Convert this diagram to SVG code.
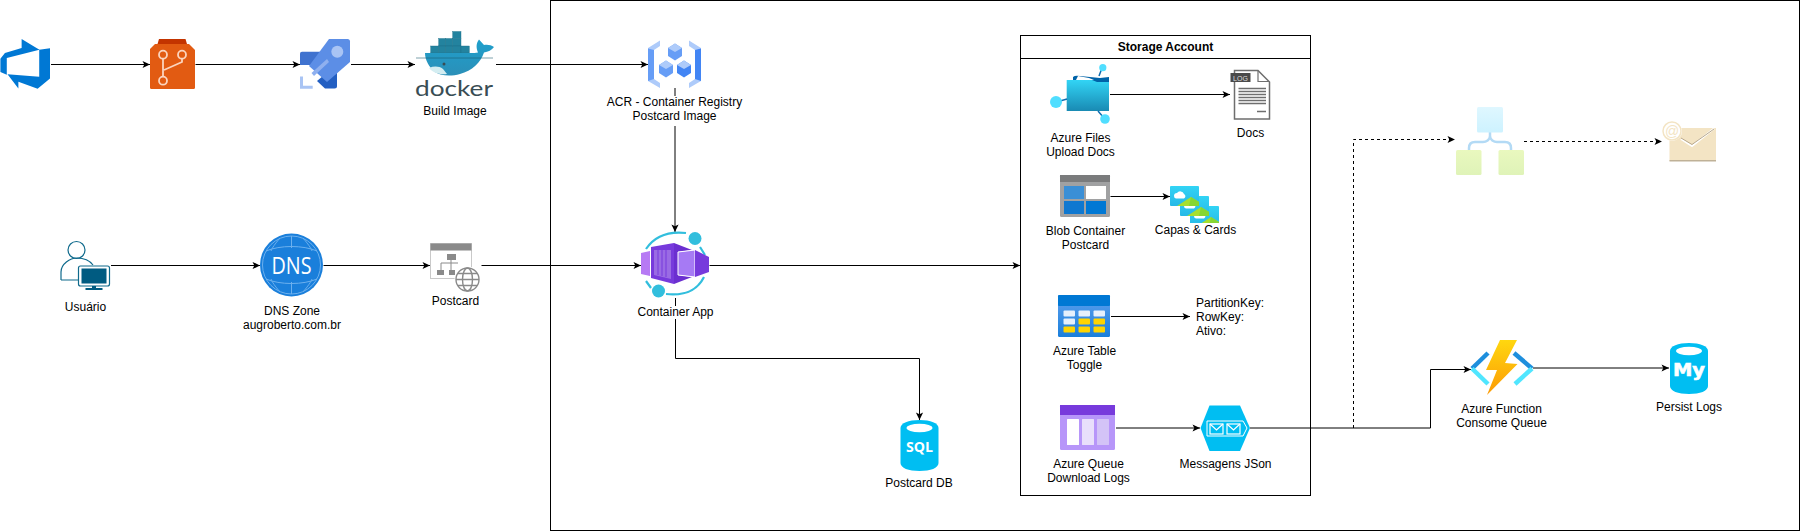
<svg xmlns="http://www.w3.org/2000/svg" width="1801" height="531" viewBox="0 0 1801 531">
<style>
text{font-family:"Liberation Sans",Arial,sans-serif;font-size:12px;fill:#000}
.c{text-anchor:middle}
.b{font-weight:bold}
.ln{fill:none;stroke:#000;stroke-width:1}
.ar{marker-end:url(#arrow)}
.da{stroke-dasharray:3 3}
.box{fill:none;stroke:#000;stroke-width:1}
.bg{fill:#fff}
</style>
<defs>
<marker id="arrow" markerUnits="userSpaceOnUse" markerWidth="10" markerHeight="10" refX="8" refY="5" orient="auto"><path d="M8 5L.5 8.600 2.300 5 .5 1.400Z" fill="#000"/></marker>
<linearGradient id="gFolder" x1="0" y1="0" x2="0" y2="1"><stop offset="0" stop-color="#32D4F5"/><stop offset="1" stop-color="#198AB3"/></linearGradient>
<linearGradient id="gTable" x1="0" y1="0" x2="0" y2="1"><stop offset="0" stop-color="#5EA0EF"/><stop offset="1" stop-color="#1A7FDB"/></linearGradient>
<linearGradient id="gBolt" x1="0" y1="0" x2="0" y2="1"><stop offset="0" stop-color="#FFD70F"/><stop offset="1" stop-color="#FC9A05"/></linearGradient>
<linearGradient id="gTop" x1="0" y1="0" x2="0" y2="1"><stop offset="0" stop-color="#DFF7FF"/><stop offset="1" stop-color="#CDF2FF"/></linearGradient>
<linearGradient id="gLeaf" x1="0" y1="0" x2="0" y2="1"><stop offset="0" stop-color="#E9F8BE"/><stop offset="1" stop-color="#DFF3B8"/></linearGradient>
<linearGradient id="gPic" x1="0" y1="0" x2="0" y2="1"><stop offset="0" stop-color="#32D4F5"/><stop offset="1" stop-color="#27B8E6"/></linearGradient>
<linearGradient id="gWhale" x1="0" y1="0" x2="0" y2="1"><stop offset="0" stop-color="#1FA0CC"/><stop offset="1" stop-color="#2B8FB8"/></linearGradient>
<g id="cyl"><path d="M0 8C0 3 8 0 19 0S38 3 38 8V43C38 48 30 51 19 51S0 48 0 43Z" fill="#00BEF2"/><ellipse cx="19" cy="8" rx="13" ry="4.200" fill="#fff"/></g>
<g id="pic"><rect width="29" height="20" rx="1" fill="url(#gPic)"/><path d="M7 20L21 11 29 16V20Z" fill="#A6DF2F"/><path d="M21 11L29 16V20H19Z" fill="#86D633"/><path d="M4 10a3 3 0 0 1 3-3a4 4 0 0 1 7 1a2.500 2.500 0 0 1 0 4.500H6a2.500 2.500 0 0 1-2-2.500Z" fill="#fff"/></g>
</defs>
<rect class="bg" width="1801" height="531"/>
<rect id="frame" class="box" x="550.500" y=".5" width="1249" height="530"/>
<g id="storage"><rect class="box" x="1020.500" y="35.500" width="290" height="460"/><path class="ln" d="M1020.500 58.500H1310.500"/><text class="c b" x="1165.500" y="51">Storage Account</text></g>

<g id="connectors">
<path class="ln ar" d="M51 64.500H150"/>
<path class="ln ar" d="M195.500 64.500H300"/>
<path class="ln ar" d="M351 64.500H415"/>
<path class="ln ar" d="M496 64.500H648"/>
<path class="ln ar" d="M675 88V232"/>
<path class="ln ar" d="M111 265.500H260"/>
<path class="ln ar" d="M323.500 265.500H430"/>
<path class="ln ar" d="M481.500 265.500H641"/>
<path class="ln ar" d="M709.500 265.500H1020"/>
<path class="ln ar" d="M675.500 298V358.500H919.500V420"/>
<path class="ln ar" d="M1110 94.500H1230"/>
<path class="ln ar" d="M1110.500 196.500H1170"/>
<path class="ln ar" d="M1111 316.500H1190"/>
<path class="ln ar" d="M1116 428H1200"/>
<path class="ln ar" d="M1250 428H1430.500V369.500H1471"/>
<path class="ln ar da" d="M1353.500 428V139.500H1455"/>
<path class="ln ar da" d="M1524 141.500H1662"/>
<path class="ln ar" d="M1533 368H1669"/>
</g>

<g id="devops"><path transform="translate(-2.700 35.900) scale(3.100)" d="M17 4v9.740l-4 3.280-6.200-2.260V17l-3.510-4.590 10.230.8V4.440zm-3.410.49L7.850 1v2.940L2.460 5.520 1 7.390v4.250l2.060.93V7.100z" fill="#0078D4"/></g>

<g id="repos"><path d="M157.500 44L159 39H185.500L187 44Z" fill="#C33400"/><path d="M155 44H189L195 50V87.500Q195 89 193.500 89H151.500Q150 89 150 87.500V49Z" fill="#E25B12"/><g fill="none" stroke="#FBD4BE" stroke-width="1.800"><circle cx="163" cy="54.700" r="4"/><circle cx="182" cy="54.700" r="4"/><circle cx="163" cy="80.700" r="4"/><path d="M163 58.700V76.700M182 58.700V62L164 70"/></g></g>

<g id="pipelines"><path d="M300 53.500Q300 51.700 302 51.700H320V65H300Z" fill="#3F72CF"/><path d="M317 81L330 70H337V86Q337 88.500 334.500 88.500H325Z" fill="#235FC2"/><path d="M329 39H347.500Q350 39 350 41.500V62L327 82 309 66Z" fill="#5C8EE6"/><circle cx="337.300" cy="51.700" r="6" fill="#A9C4F4"/><path d="M311.500 73L327 59 329 62 314 76Z" fill="#8FB0EF"/><path d="M300 76.500H303V85.800H312.700V88.700H300Z" fill="#A9C4F4"/></g>

<g id="docker"><g fill="#23839F" stroke="#1B6F88" stroke-width=".4"><rect x="452.700" y="31.500" width="8.300" height="7"/><rect x="452.700" y="38.500" width="8.300" height="7.500"/><rect x="438.700" y="38.500" width="7" height="7.500"/><rect x="445.700" y="38.500" width="7" height="7.500"/><rect x="430.700" y="46" width="8" height="7"/><rect x="438.700" y="46" width="7" height="7"/><rect x="445.700" y="46" width="7" height="7"/><rect x="452.700" y="46" width="8.300" height="7"/><rect x="461" y="46" width="8.300" height="7"/></g>
<path d="M425 53H470C473 53 476 53 478 52.500C476 48 476 43 479 39.500L484 45C488 44.500 491 45 494 47C492 50 488 52 484 52.500C481 62 472 71 460 74 451 76.500 441 76 435 72 429 67 425 60 425 53Z" fill="url(#gWhale)"/><path d="M429 68C434 66 439 66 443 69L447 74C440 75 433 73 429 68Z" fill="#D4EDF1"/><circle cx="444" cy="64" r="1.500" fill="#394D54"/><path d="M416 58H493" stroke="#1B5B70" stroke-width=".8" opacity=".7"/>
<text x="415" y="96" textLength="78" lengthAdjust="spacingAndGlyphs" style="font-family:Lato,'Liberation Sans',sans-serif;font-size:22px;fill:#394D54">docker</text>
<text class="c" x="455" y="115">Build Image</text></g>

<g id="acr"><g fill="#AECBFA"><path d="M648 48L660 40.500V46L654 50V79L660 83V88L648 81Z"/><path d="M701 48L689 40.500V46L695 50V79L689 83V88L701 81Z"/></g><path d="M648 48.500L654 50V79L648 81Z" fill="#669DF6"/><path d="M701 48.500L695 50V79L701 81Z" fill="#4285F4"/>
<g id="cubes"><path d="M675 43.500L682 48V56L675 60.500 668 56V48Z" fill="#669DF6"/><path d="M675 43.500L682 48 675 52 668 48Z" fill="#AECBFA"/><path d="M666 60.500L673 65V73L666 77.500 659 73V65Z" fill="#669DF6"/><path d="M666 60.500L673 65 666 69 659 65Z" fill="#AECBFA"/><path d="M684 60.500L691 65V73L684 77.500 677 73V65Z" fill="#4285F4"/><path d="M684 60.500L691 65 684 69 677 65Z" fill="#AECBFA"/></g>
<rect class="bg" x="600" y="96" width="150" height="30"/>
<text class="c" x="674.500" y="106">ACR - Container Registry</text><text class="c" x="674.500" y="120">Postcard Image</text></g>

<g id="user"><g fill="none" stroke="#0F6A8C" stroke-width="1.200"><circle cx="76.500" cy="250" r="8.500"/><path d="M61 280V272C61 264 70 258 77 258 84 258 90 261 93 265M61 280H79"/></g><rect x="78.500" y="266" width="31" height="20" rx="2" fill="#fff" stroke="#0F6A8C" stroke-width="1.200"/><rect x="81.500" y="268.500" width="25" height="15" fill="#005B81"/><path d="M92 286H96V288H102.500V290H85.500V288H92Z" fill="#005B81"/><text class="c" x="85.500" y="311">Usuário</text></g>

<g id="dns"><circle cx="291.500" cy="265" r="31.500" fill="#1A7FDB"/><g fill="none" stroke="#6CB0EE" stroke-width="1"><circle cx="291.500" cy="265" r="29"/><path d="M266 251C280 245 303 245 317 251M266 279C280 285 303 285 317 279M280 238C275 244 272 248 271 251M303 238C308 244 311 248 312 251M280 292C275 286 272 282 271 279M303 292C308 286 311 282 312 279M291.500 236V248M291.500 282V294"/></g><text class="c" x="291.500" y="274" textLength="40" lengthAdjust="spacingAndGlyphs" style="font-family:'Open Sans','Liberation Sans',sans-serif;font-size:24px;fill:#fff">DNS</text>
<text class="c" x="292" y="315">DNS Zone</text><text class="c" x="292" y="329">augroberto.com.br</text></g>

<g id="postcard"><rect x="430.500" y="243.500" width="41" height="35" fill="#fff" stroke="#C9C9C9"/><rect x="430.500" y="243.500" width="41" height="7" fill="#8A8A8A"/><g fill="#8A8A8A"><rect x="447" y="254" width="9" height="6"/><rect x="437" y="270" width="7" height="5"/><rect x="449" y="270" width="6" height="5"/></g><path d="M451 260V263H441V270M451 263V270M451 263H458" fill="none" stroke="#8A8A8A"/><circle cx="467.500" cy="279.500" r="13" fill="#fff"/><g fill="none" stroke="#8A8A8A" stroke-width="1.400"><circle cx="467.500" cy="279.500" r="11.500"/><ellipse cx="467.500" cy="279.500" rx="5" ry="11.500"/><path d="M456 279.500H479M458 273.500H477M458 285.500H477"/></g>
<text class="c" x="455.500" y="305">Postcard</text></g>

<g id="containerapp"><g fill="none" stroke="#32BEDD" stroke-width="2.200"><path d="M646 249C654 237 668 231 686 233M700 247L705 255M704 277C697 291 685 296 666 294M651 288L646 281"/></g><circle cx="695" cy="238.500" r="6.500" fill="#32BEDD"/><circle cx="658.500" cy="291" r="6.500" fill="#32BEDD"/><path d="M641 253L650 251V276L641 274Z" fill="#B77AF4"/><path d="M651 247L674 243V284L651 278Z" fill="#773ADC"/><path d="M674 243L692 250 678 252V275L692 277 674 284Z" fill="#6B2FD0"/><path d="M654 250H671V279L654 275Z" fill="#9A6BE4"/><path d="M658 250V275M662 250V276M666 250V277" stroke="#773ADC"/><path d="M678 252L695 250V277L678 275Z" fill="#A67AF4" stroke="#fff"/><path d="M695 250L709 257V272L695 277Z" fill="#773ADC"/><rect class="bg" x="634" y="306" width="84" height="13"/><text class="c" x="675.500" y="316">Container App</text></g>

<g id="sqldb"><use href="#cyl" x="900.500" y="420"/><text class="c b" x="919.500" y="452" textLength="27" lengthAdjust="spacingAndGlyphs" style="font-family:'Open Sans','Liberation Sans',sans-serif;font-size:14px;fill:#fff">SQL</text><text class="c" x="919" y="487">Postcard DB</text></g>

<g id="files"><path d="M1073 80V77Q1075 75 1080 76L1090 77 1100 78 1109 77V100H1073Z" fill="#0063A8"/><path d="M1076 80L1078 76 1089 78 1094 80Z" fill="#fff"/><path d="M1066.700 80H1092L1097 82H1109V111H1066.700Z" fill="url(#gFolder)"/><path d="M1099 76L1102 68M1060 101L1067 99M1098 111L1104 118" stroke="#0F6DB0" stroke-width="1.500"/><g fill="#50DEFF"><circle cx="1102.800" cy="67.700" r="3.600"/><circle cx="1056" cy="102" r="6"/><circle cx="1105" cy="119" r="4.800"/></g>
<text class="c" x="1080.500" y="142">Azure Files</text><text class="c" x="1080.500" y="156">Upload Docs</text></g>

<g id="docs"><path d="M1234.500 70.500H1258L1269.500 82V119H1234.500Z" fill="#fff" stroke="#6E6E6E" stroke-width="1.500"/><path d="M1258 70.500V81.500H1269.500" fill="none" stroke="#6E6E6E" stroke-width="1.200"/><rect x="1230.500" y="73" width="20" height="9" fill="#4A4A4A"/><text class="c" x="1240.500" y="80.500" style="font-size:7px;fill:#ddd">LOG</text><path d="M1238.500 88.500H1266M1238.500 91.500H1266M1238.500 94.500H1266M1238.500 97.500H1266M1238.500 100.500H1266M1238.500 103.500H1266M1257 111.500H1266" stroke="#6E6E6E" stroke-width="1.300"/><text class="c" x="1250.500" y="137">Docs</text></g>

<g id="blob"><rect x="1060" y="175" width="50" height="42" rx="1.500" fill="#A0A1A2"/><rect x="1060" y="175" width="50" height="7" fill="#7A7B7C"/><rect x="1064" y="186" width="20" height="13" fill="#3A8FD6"/><rect x="1086" y="186" width="20" height="13" fill="#fff"/><rect x="1064" y="201" width="20" height="13" fill="#0F78D0"/><rect x="1086" y="201" width="20" height="13" fill="#0078D4"/><text class="c" x="1085.500" y="235">Blob Container</text><text class="c" x="1085.500" y="249">Postcard</text></g>

<g id="capas"><svg x="1190" y="206" width="29" height="17" viewBox="0 0 29 17"><use href="#pic"/></svg><use href="#pic" x="1180" y="196"/><use href="#pic" x="1170" y="186"/><text class="c" x="1195.500" y="234">Capas &amp; Cards</text></g>

<g id="table"><rect x="1058" y="295" width="52" height="42" rx="1.500" fill="url(#gTable)"/><rect x="1058" y="295" width="52" height="11" rx="1" fill="#0078D4"/><g fill="#E6F0FC"><rect x="1063.500" y="310.500" width="11.500" height="6" rx="1"/><rect x="1078.500" y="310.500" width="11.500" height="6" rx="1"/><rect x="1093.500" y="310.500" width="11.500" height="6" rx="1"/><rect x="1063.500" y="318.500" width="11.500" height="6" rx="1"/></g><g fill="#FFD400"><rect x="1078.500" y="318.500" width="11.500" height="6" rx="1"/><rect x="1093.500" y="318.500" width="11.500" height="6" rx="1"/><rect x="1063.500" y="326.500" width="11.500" height="6" rx="1"/><rect x="1078.500" y="326.500" width="11.500" height="6" rx="1"/><rect x="1093.500" y="326.500" width="11.500" height="6" rx="1"/></g><text class="c" x="1084.500" y="355">Azure Table</text><text class="c" x="1084.500" y="369">Toggle</text></g>

<g id="fields"><text x="1196" y="307">PartitionKey:</text><text x="1196" y="321">RowKey:</text><text x="1196" y="335">Ativo:</text></g>

<g id="queue"><rect x="1060" y="405" width="55" height="45" rx="1.500" fill="#B796F9"/><rect x="1060" y="405" width="55" height="10" fill="#773ADC"/><rect x="1067" y="419" width="12" height="26" rx=".5" fill="#fff"/><rect x="1082" y="419" width="12" height="26" rx=".5" fill="#E8DFFB"/><rect x="1097" y="419" width="12" height="26" rx=".5" fill="#D3C3F7"/><text class="c" x="1088.500" y="468">Azure Queue</text><text class="c" x="1088.500" y="482">Download Logs</text></g>

<g id="messages"><path d="M1200.500 428L1209.500 405.500H1240L1250 428 1240 451H1209.500Z" fill="#00BEF2"/><path d="M1207 421H1243L1247 428 1243 436H1207Z" fill="none" stroke="#fff" stroke-width="1"/><g fill="none" stroke="#fff" stroke-width="1.200"><rect x="1210" y="424" width="13" height="10"/><rect x="1227" y="424" width="13" height="10"/><path d="M1210 424L1216.500 430 1223 424M1227 424L1233.500 430 1240 424"/></g><text class="c" x="1225.500" y="468">Messagens JSon</text></g>

<g id="logicapp"><path d="M1490 132V136C1490 140 1486 142 1483 142H1475Q1469 142 1469 148V150M1490 136C1490 140 1494 142 1497 142H1505Q1511 142 1511 148V150" fill="none" stroke="#B3DAF5" stroke-width="2.500"/><rect x="1477" y="107" width="26" height="25.500" rx="1.500" fill="url(#gTop)"/><rect x="1456" y="150" width="25.500" height="25" rx="1.500" fill="url(#gLeaf)"/><rect x="1498.500" y="150" width="25.500" height="25" rx="1.500" fill="url(#gLeaf)"/></g>

<g id="email"><rect x="1669.500" y="128" width="46.500" height="33" fill="#F3E4C4"/><rect x="1669.500" y="160" width="46.500" height="1.500" fill="#BFB197"/><path d="M1681 139L1692 146 1714 128.500" fill="none" stroke="#fff" stroke-width="2"/><path d="M1681 138L1692 144.500 1714 129" fill="none" stroke="#B8A88C"/><circle cx="1672" cy="131" r="10" fill="#fff"/><circle cx="1672" cy="131" r="9" fill="none" stroke="#F3E4C4" stroke-width="1.500"/><text class="c" x="1672" y="136" style="font-size:14px;fill:#F3E4C4">@</text></g>

<g id="function"><path d="M1472 368.500L1488 353" stroke="#1E8FDD" stroke-width="4.500" fill="none"/><path d="M1472 368.500L1488 384" stroke="#50E6FF" stroke-width="4.500" fill="none"/><path d="M1532 368.500L1514 353" stroke="#1E8FDD" stroke-width="4.500" fill="none"/><path d="M1532 368.500L1515 384" stroke="#50E6FF" stroke-width="4.500" fill="none"/><path d="M1500 340H1517L1505 363 1517.500 364 1487 395 1497 370 1486 370Z" fill="url(#gBolt)"/><text class="c" x="1501.500" y="413">Azure Function</text><text class="c" x="1501.500" y="427">Consome Queue</text></g>

<g id="mysql"><use href="#cyl" x="1670" y="343"/><text class="c b" x="1689" y="375.500" textLength="32" lengthAdjust="spacingAndGlyphs" style="font-family:'DejaVu Sans',sans-serif;font-size:17px;stroke:#fff;stroke-width:.6;fill:#fff">My</text><text class="c" x="1689" y="411">Persist Logs</text></g>
</svg>
